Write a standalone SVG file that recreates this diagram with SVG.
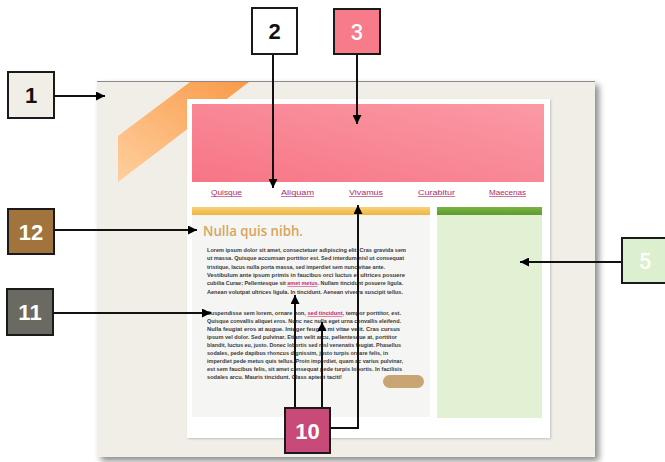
<svg xmlns="http://www.w3.org/2000/svg" width="665" height="462" viewBox="0 0 665 462">
<defs>
<linearGradient id="ribbon" x1="0" y1="1" x2="1" y2="0">
<stop offset="0" stop-color="#ffcf9e"/><stop offset="1" stop-color="#f99a48"/>
</linearGradient>
<linearGradient id="hdr" x1="0" y1="1" x2="1" y2="0">
<stop offset="0" stop-color="#f77585"/><stop offset="1" stop-color="#fa9aa5"/>
</linearGradient>
<linearGradient id="ybar" x1="0" y1="0" x2="0" y2="1">
<stop offset="0" stop-color="#f7d27a"/><stop offset="1" stop-color="#eeb540"/>
</linearGradient>
<linearGradient id="gbar" x1="0" y1="0" x2="0" y2="1">
<stop offset="0" stop-color="#7cb446"/><stop offset="1" stop-color="#5e9a2c"/>
</linearGradient>
<filter id="sh" x="-10%" y="-10%" width="125%" height="125%">
<feDropShadow dx="4" dy="4" stdDeviation="3" flood-color="#000" flood-opacity="0.45"/>
</filter>
<filter id="sh2" x="-5%" y="-5%" width="110%" height="110%">
<feDropShadow dx="1" dy="1" stdDeviation="1" flood-color="#000" flood-opacity="0.2"/>
</filter>
<marker id="ah" viewBox="0 0 10 10" refX="10" refY="5" markerWidth="9" markerHeight="9" markerUnits="userSpaceOnUse" orient="auto">
<path d="M0,0 L10,5 L0,10 z" fill="#000"/>
</marker>
<style>
.box{stroke:#1a1a1a;stroke-width:2}
.num{font-family:"Liberation Sans",Arial,sans-serif;font-weight:bold;font-size:22px;text-anchor:middle}
.reg{font-family:Roboto,"Liberation Sans",sans-serif;font-weight:500}
.w{fill:#fff}
.k{fill:#111}
.nav{font-family:"Liberation Sans",Arial,sans-serif;font-size:6.5px;fill:#b02a6a;text-decoration:underline}
.body{font-family:"Liberation Sans",Arial,sans-serif;font-size:5.4px;font-weight:bold;fill:#3a3a3a}
.lnk{fill:#c8286e;text-decoration:underline}
.conn{fill:none;stroke:#111;stroke-width:2;marker-end:url(#ah)}
</style>
</defs>

<g id="page">
<rect x="97" y="81" width="498" height="376" fill="#f1eee7" filter="url(#sh)"/>
<line x1="97" y1="81.5" x2="595" y2="81.5" stroke="#8a8a8a" stroke-width="1.2"/>
<polygon points="190,82 249,82 118,182 118,136" fill="url(#ribbon)"/>
<rect x="187" y="99" width="363" height="339" fill="#ffffff" filter="url(#sh2)"/>
<rect x="192" y="104" width="352" height="78" fill="url(#hdr)"/>
<text class="nav" x="211" y="195" textLength="31" lengthAdjust="spacingAndGlyphs">Quisque</text>
<text class="nav" x="281" y="195" textLength="33" lengthAdjust="spacingAndGlyphs">Aliquam</text>
<text class="nav" x="349" y="195" textLength="34" lengthAdjust="spacingAndGlyphs">Vivamus</text>
<text class="nav" x="418" y="195" textLength="37" lengthAdjust="spacingAndGlyphs">Curabitur</text>
<text class="nav" x="489" y="195" textLength="37" lengthAdjust="spacingAndGlyphs">Maecenas</text>
<rect x="192" y="207" width="238" height="8" fill="url(#ybar)"/>
<rect x="192" y="215" width="238" height="202" fill="#f5f5f3"/>
<rect x="437" y="207" width="105" height="8" fill="url(#gbar)"/>
<rect x="437" y="215" width="105" height="203" fill="#e2f0d4"/>
<text x="203" y="236" font-family="'Open Sans','DejaVu Sans',sans-serif" font-size="14" font-weight="600" fill="#d6a55c" textLength="100" lengthAdjust="spacingAndGlyphs">Nulla quis nibh.</text>
<g class="body">
<text x="207" y="252" textLength="199" lengthAdjust="spacingAndGlyphs">Lorem ipsum dolor sit amet, consectetuer adipiscing elit. Cras gravida sem</text>
<text x="207" y="260.3" textLength="197" lengthAdjust="spacingAndGlyphs">ut massa. Quisque accumsan porttitor est. Sed interdum nisl ut consequat</text>
<text x="207" y="268.6" textLength="178" lengthAdjust="spacingAndGlyphs">tristique, lacus nulla porta massa, sed imperdiet sem nunc vitae ante.</text>
<text x="207" y="276.9" textLength="198" lengthAdjust="spacingAndGlyphs">Vestibulum ante ipsum primis in faucibus orci luctus et ultrices posuere</text>
<text x="207" y="285.2" textLength="196" lengthAdjust="spacingAndGlyphs">cubilia Curae; Pellentesque sit <tspan class="lnk">amet metus</tspan>. Nullam tincidunt posuere ligula.</text>
<text x="207" y="293.5" textLength="196" lengthAdjust="spacingAndGlyphs">Aenean volutpat ultrices ligula. In tincidunt. Aenean viverra suscipit tellus.</text>
<text x="207" y="315" textLength="194" lengthAdjust="spacingAndGlyphs">Suspendisse sem lorem, ornare non, <tspan class="lnk">sed tincidunt</tspan>, tempor porttitor, est.</text>
<text x="207" y="323" textLength="194" lengthAdjust="spacingAndGlyphs">Quisque convallis aliquet eros. Nunc nec nulla eget urna convallis eleifend.</text>
<text x="207" y="331" textLength="193" lengthAdjust="spacingAndGlyphs">Nulla feugiat eros at augue. Integer feugiat mi vitae velit. Cras cursus</text>
<text x="207" y="339" textLength="190" lengthAdjust="spacingAndGlyphs">ipsum vel dolor. Sed pulvinar. Etiam velit arcu, pellentesque at, porttitor</text>
<text x="207" y="347" textLength="194" lengthAdjust="spacingAndGlyphs">blandit, luctus eu, justo. Donec lobortis sed nisl venenatis feugiat. Phasellus</text>
<text x="207" y="355" textLength="181" lengthAdjust="spacingAndGlyphs">sodales, pede dapibus rhoncus dignissim, justo turpis ornare felis, in</text>
<text x="207" y="363" textLength="196" lengthAdjust="spacingAndGlyphs">imperdiet pede metus quis tellus. Proin imperdiet, quam ac varius pulvinar,</text>
<text x="207" y="371" textLength="195" lengthAdjust="spacingAndGlyphs">est sem faucibus felis, sit amet consequat pede turpis lobortis. In facilisis</text>
<text x="207" y="379" textLength="135" lengthAdjust="spacingAndGlyphs">sodales arcu. Mauris tincidunt. Class aptent taciti!</text>
</g>
<rect x="383" y="375" width="41" height="13" rx="6.5" fill="#c9a574"/>
</g>

<g id="connectors">
<line class="conn" x1="54" y1="96" x2="105" y2="96"/>
<line class="conn" x1="273" y1="54" x2="273" y2="188"/>
<line class="conn" x1="357" y1="54" x2="357" y2="124"/>
<line class="conn" x1="622" y1="262" x2="520" y2="262"/>
<line class="conn" x1="54" y1="230" x2="197" y2="230"/>
<line class="conn" x1="53" y1="313" x2="211" y2="313"/>
<line class="conn" x1="295" y1="408" x2="295" y2="295"/>
<line class="conn" x1="322" y1="408" x2="322" y2="322"/>
<polyline class="conn" points="330,428 358,428 358,205"/>
</g>

<g id="n1"><rect class="box" x="8" y="72" width="46" height="46" fill="#f1eee7"/><text class="num k" x="31" y="103">1</text></g>
<g id="n2"><rect class="box" x="252" y="8" width="45" height="46" fill="#ffffff"/><text class="num k" x="274.5" y="39">2</text></g>
<g id="n3"><rect class="box" x="334" y="9" width="46" height="45" fill="#f77b89"/><text class="num reg w" x="357" y="40">3</text></g>
<g id="n5"><rect class="box" x="622" y="238" width="46" height="45" fill="#dcefce"/><text class="num reg w" x="645" y="269">5</text></g>
<g id="n12"><rect class="box" x="8" y="209" width="46" height="45" fill="#a0743c"/><text class="num w" x="31" y="240">12</text></g>
<g id="n11"><rect class="box" x="7" y="289" width="46" height="46" fill="#6b6a62"/><text class="num w" x="30" y="320">11</text></g>
<g id="n10"><rect class="box" x="285" y="408" width="45" height="45" fill="#c84a78"/><text class="num w" x="307.5" y="439">10</text></g>
</svg>
